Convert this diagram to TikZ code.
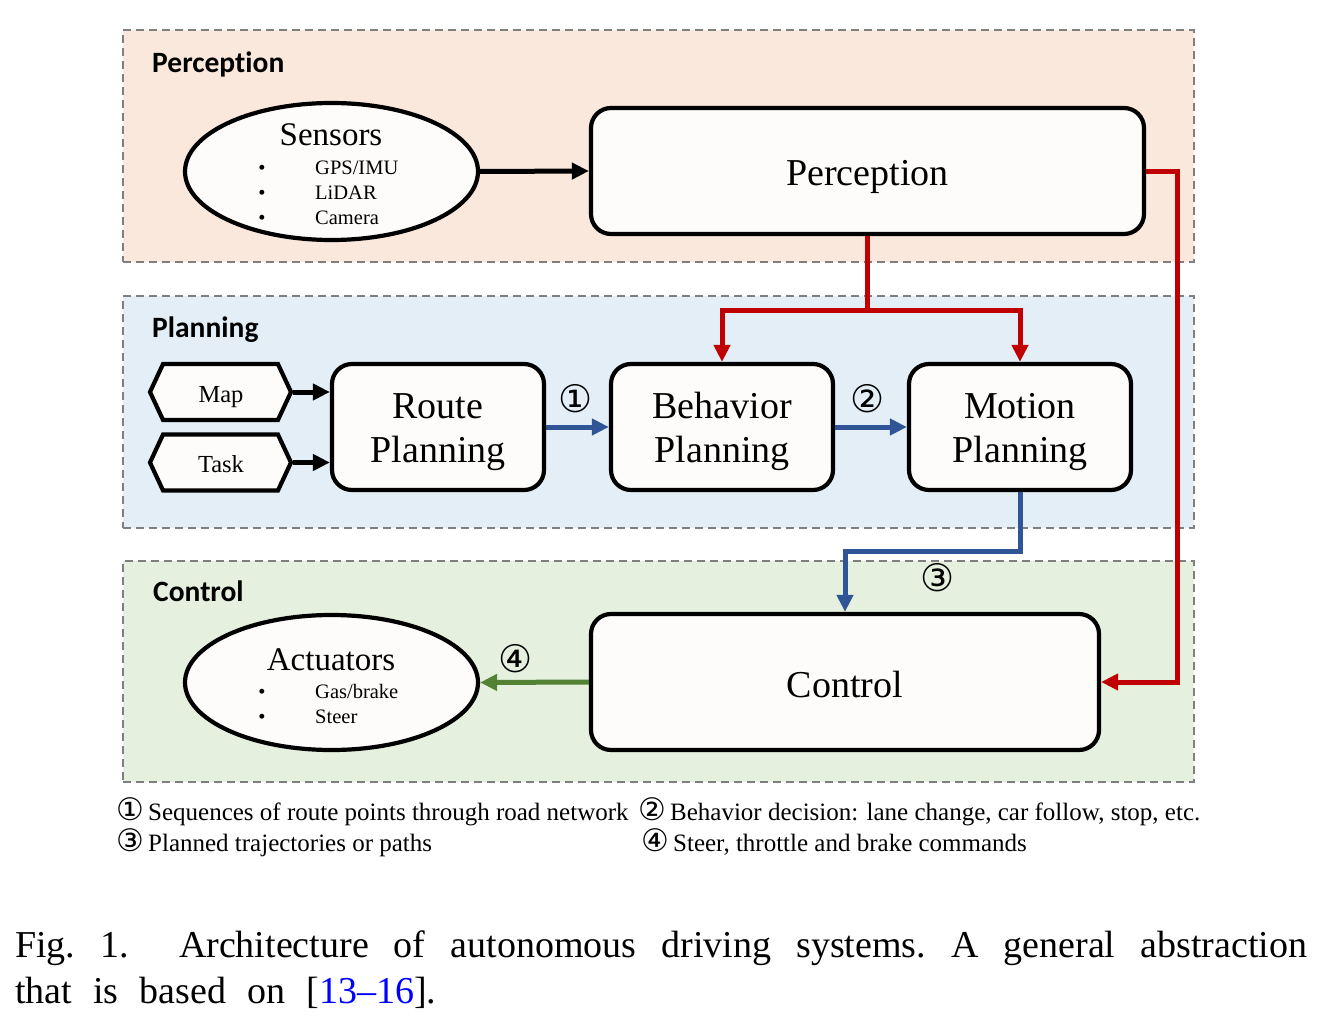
\documentclass[tikz,border=0pt]{standalone}
\usepackage{fontspec}
\setmainfont{Liberation Serif}
\newfontfamily\grpfont[Ligatures=NoCommon]{Carlito}
\newfontfamily\cnumfont{DejaVu Sans}
\usetikzlibrary{arrows.meta,shapes.geometric,shapes.symbols}
\definecolor{perfill}{HTML}{FBE8DD}
\definecolor{planfill}{HTML}{E3EEF7}
\definecolor{ctlfill}{HTML}{E5F0DE}
\definecolor{grayb}{HTML}{7F7F7F}
\definecolor{boxfill}{HTML}{FDFCFB}
\definecolor{redc}{HTML}{C00000}
\definecolor{bluec}{HTML}{2F5597}
\definecolor{greenc}{HTML}{548235}
\definecolor{refblue}{HTML}{0000FF}
\begin{document}
\begin{tikzpicture}[x=1pt,y=-1pt,
  group/.style={draw=grayb, dash pattern=on 8pt off 5pt, line width=1.8pt, anchor=north west, inner sep=0pt},
  glbl/.style={font=\grpfont\bfseries\fontsize{29.5}{31}\selectfont, anchor=base west, inner sep=0pt},
  box/.style={draw=black, line width=4.2pt, rounded corners=20pt, fill=boxfill, inner sep=0pt},
  ell/.style={ellipse, draw=black, line width=4.2pt, fill=boxfill, inner sep=0pt},
  hexa/.style={signal, signal to=west and east, signal pointer angle=130, draw=black, line width=4.2pt, fill=boxfill, minimum width=141pt, minimum height=56pt, inner sep=0pt},
  big/.style={font=\fontsize{38}{44}\selectfont, anchor=base, inner sep=0pt},
  mid/.style={font=\fontsize{33}{38}\selectfont, anchor=base, inner sep=0pt},
  small/.style={font=\fontsize{20.5}{24}\selectfont, inner sep=0pt},
  hexlbl/.style={font=\fontsize{24.5}{28}\selectfont, anchor=base, inner sep=0pt},
  cnum/.style={font=\cnumfont\fontsize{38}{40}\selectfont, inner sep=0pt},
  legend/.style={font=\fontsize{25}{28}\selectfont, anchor=base west, inner sep=0pt},
  conn/.style={line width=5pt, -{Triangle[length=17pt,width=16pt]}},
  captxt/.style={font=\fontsize{38}{44}\selectfont, anchor=base west, inner sep=0pt}
]
\useasboundingbox (0,0) rectangle (1338,1022);
\fill[white] (0,0) rectangle (1338,1022);

% groups
\node[group, fill=perfill, minimum width=1071pt, minimum height=232pt] (gper) at (122,29) {};
\node[group, fill=planfill, minimum width=1071pt, minimum height=232pt] (gplan) at (122,295) {};
\node[group, fill=ctlfill, minimum width=1071pt, minimum height=221pt] (gctl) at (122,560) {};
\node[glbl] (gperl) at (152,73) {Perception};
\node[glbl] (gplanl) at (152,337) {Planning};
\node[glbl] (gctll) at (153,601) {Control};

% perception row
\node[ell, minimum width=293pt, minimum height=137pt] (sens) at (331.5,171.5) {};
\node[mid] (sensT) at (331,146) {Sensors};
\node[small, anchor=base] (sb1) at (262,174) {•};
\node[small, anchor=base] (sb2) at (262,199) {•};
\node[small, anchor=base] (sb3) at (262,224) {•};
\node[small, anchor=base west] (st1) at (315,174) {GPS/IMU};
\node[small, anchor=base west] (st2) at (315,199) {LiDAR};
\node[small, anchor=base west] (st3) at (315,224) {Camera};

\node[box, minimum width=553pt, minimum height=126pt] (per) at (867.5,171) {};
\node[big] (perT) at (867.5,185) {Perception};

% planning row
\node[hexa] (map) at (220.5,392) {};
\node[hexlbl] (mapT) at (221,402) {Map};
\node[hexa] (task) at (220.5,462.5) {};
\node[hexlbl] (taskT) at (221,472) {Task};

\node[box, minimum width=212pt, minimum height=126pt] (route) at (438,427) {};
\node[big, align=center, anchor=base] (routeT) at (438,462) {Route\\Planning};
\node[box, minimum width=222pt, minimum height=126pt] (beh) at (722,427) {};
\node[big, align=center, anchor=base] (behT) at (722,462) {Behavior\\Planning};
\node[box, minimum width=222pt, minimum height=126pt] (mot) at (1020,427) {};
\node[big, align=center, anchor=base] (motT) at (1020,462) {Motion\\Planning};

% control row
\node[ell, minimum width=293pt, minimum height=135pt] (act) at (331.5,682.5) {};
\node[mid] (actT) at (331,670) {Actuators};
\node[small, anchor=base] (ab1) at (262,698) {•};
\node[small, anchor=base] (ab2) at (262,723) {•};
\node[small, anchor=base west] (at1) at (315,698) {Gas/brake};
\node[small, anchor=base west] (at2) at (315,723) {Steer};

\node[box, minimum width=508pt, minimum height=136pt] (ctl) at (845,682) {};
\node[big] (ctlT) at (845,697) {Control};

% connectors
\draw[conn, black] (sens.east) -- (per.west);
\draw[conn, black] (map.east) -- (map.east -| route.west);
\draw[conn, black] (task.east) -- (task.east -| route.west);
\draw[conn, bluec] (route.east) -- (beh.west);
\draw[conn, bluec] (beh.east) -- (mot.west);

\coordinate (split) at (867.5,310);
\draw[line width=5pt, redc] (per.south) -- (split);
\draw[conn, redc] (split) -| (beh.north);
\draw[conn, redc] (split) -| (mot.north);
\coordinate (rr) at (1177,0);
\draw[conn, redc] (per.east) -- (per.east -| rr) |- (ctl.east);

\draw[conn, bluec] (mot.south) -- ++(0,59) -| (ctl.north);
\draw[conn, greenc] (ctl.west) -- (act.east);

% circled numbers
\node[cnum] (n1) at (576,399) {①};
\node[cnum] (n2) at (868,399) {②};
\node[cnum] (n3) at (938,578) {③};
\node[cnum] (n4) at (516,659) {④};

% legend
\node[legend] (l1) at (116,820) {{\cnumfont\fontsize{31}{28}\selectfont ①}\,Sequences of route points through road network};
\node[legend] (l2) at (638,820) {{\cnumfont\fontsize{31}{28}\selectfont ②}\,Behavior decision: lane change, car follow, stop, etc.};
\node[legend] (l3) at (116,851) {{\cnumfont\fontsize{31}{28}\selectfont ③}\,Planned trajectories or paths};
\node[legend] (l4) at (641,851) {{\cnumfont\fontsize{31}{28}\selectfont ④}\,Steer, throttle and brake commands};

% caption
\node[captxt] (cap1) at (15,957) {\frenchspacing\makebox[1292pt][s]{Fig. 1.\ \ Architecture of autonomous driving systems. A general abstraction}};
\node[captxt] (cap2) at (15,1003) {\frenchspacing\makebox[421pt][s]{that is based on [\textcolor{refblue}{13--16}].}};
\end{tikzpicture}
\end{document}
